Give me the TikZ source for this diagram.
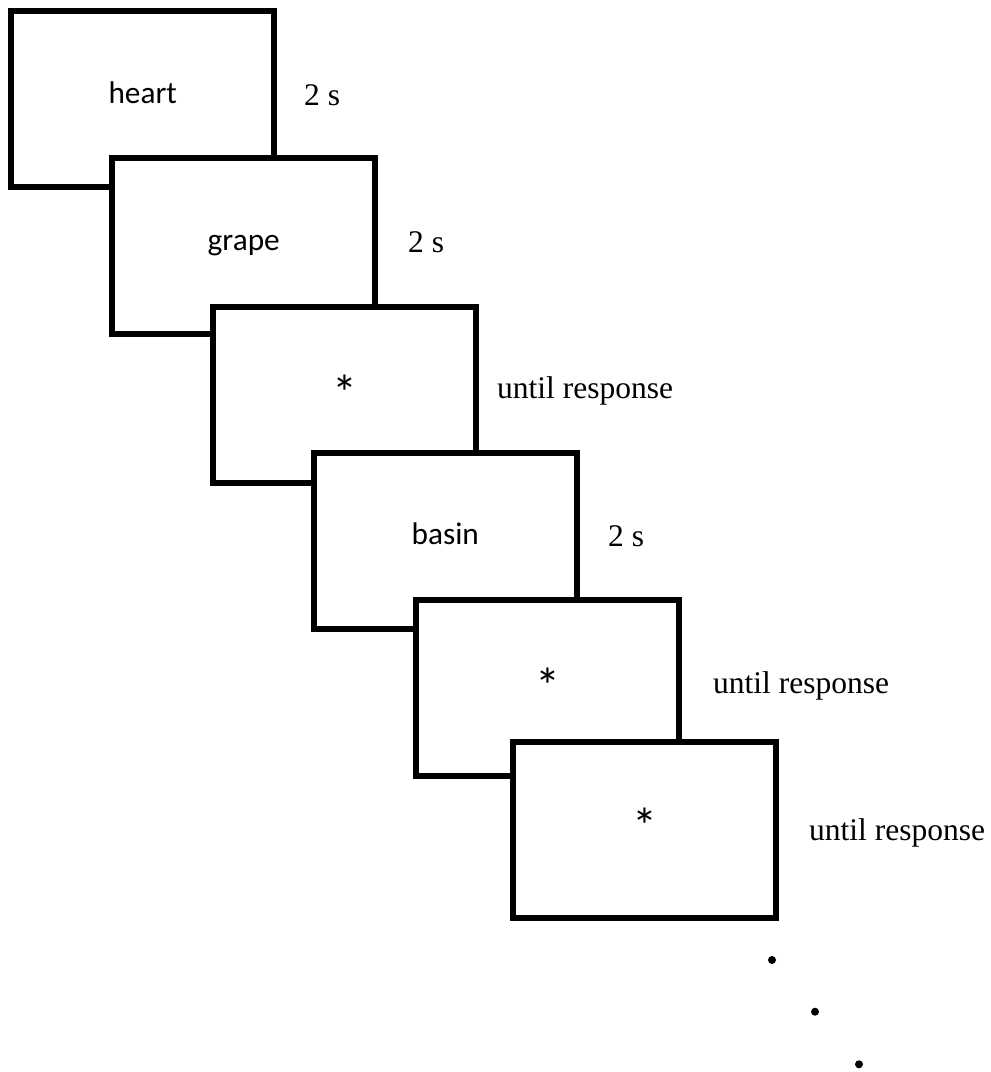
\documentclass[tikz,border=0pt]{standalone}
\usepackage{fontspec}
\setmainfont{Liberation Serif}
\newfontfamily\boxfont{Carlito}
\begin{document}
\begin{tikzpicture}[x=1pt,y=-1pt,
  screen/.style={draw=black,fill=white,line width=6pt,minimum width=263pt,minimum height=176pt,inner sep=0pt,outer sep=0pt},
  word/.style={anchor=base,inner sep=0pt,font=\boxfont\fontsize{31.3}{37}\selectfont},
  star/.style={anchor=base,inner sep=0pt,font=\boxfont\fontsize{50}{56}\selectfont},
  dur/.style={anchor=base west,inner sep=0pt,font=\fontsize{31.5}{37}\selectfont},
  dotmark/.style={circle,fill=black,inner sep=0pt,minimum size=8pt}]
\useasboundingbox (0,0) rectangle (991,1072);
\node[screen] (b1) at (142.75,98.75) {};
\node[word] (w1) at ([yshift=-4.5pt]b1.center) {heart};
\node[screen] (b2) at (243.75,246.25) {};
\node[word] (w2) at ([yshift=-4pt]b2.center) {grape};
\node[screen] (b3) at (344.5,395) {};
\node[star] (w3) at ([yshift=-15pt]b3.center) {*};
\node[screen] (b4) at (445.25,541) {};
\node[word] (w4) at ([yshift=-3.5pt]b4.center) {basin};
\node[screen] (b5) at (547.5,688) {};
\node[star] (w5) at ([yshift=-15pt]b5.center) {*};
\node[screen] (b6) at (644.5,830.3) {};
\node[star] (w6) at ([yshift=-13pt]b6.center) {*};
\node[dur] (l1) at (304,105) {2 s};
\node[dur] (l2) at (408,252) {2 s};
\node[dur] (l3) at (497,398) {until response};
\node[dur] (l4) at (608,546.7) {2 s};
\node[dur] (l5) at (713,693) {until response};
\node[dur] (l6) at (809,840.7) {until response};
\node[dotmark] (d1) at (772,960) {};
\node[dotmark] (d2) at (815,1011.7) {};
\node[dotmark] (d3) at (859,1064.3) {};
\end{tikzpicture}
\end{document}
